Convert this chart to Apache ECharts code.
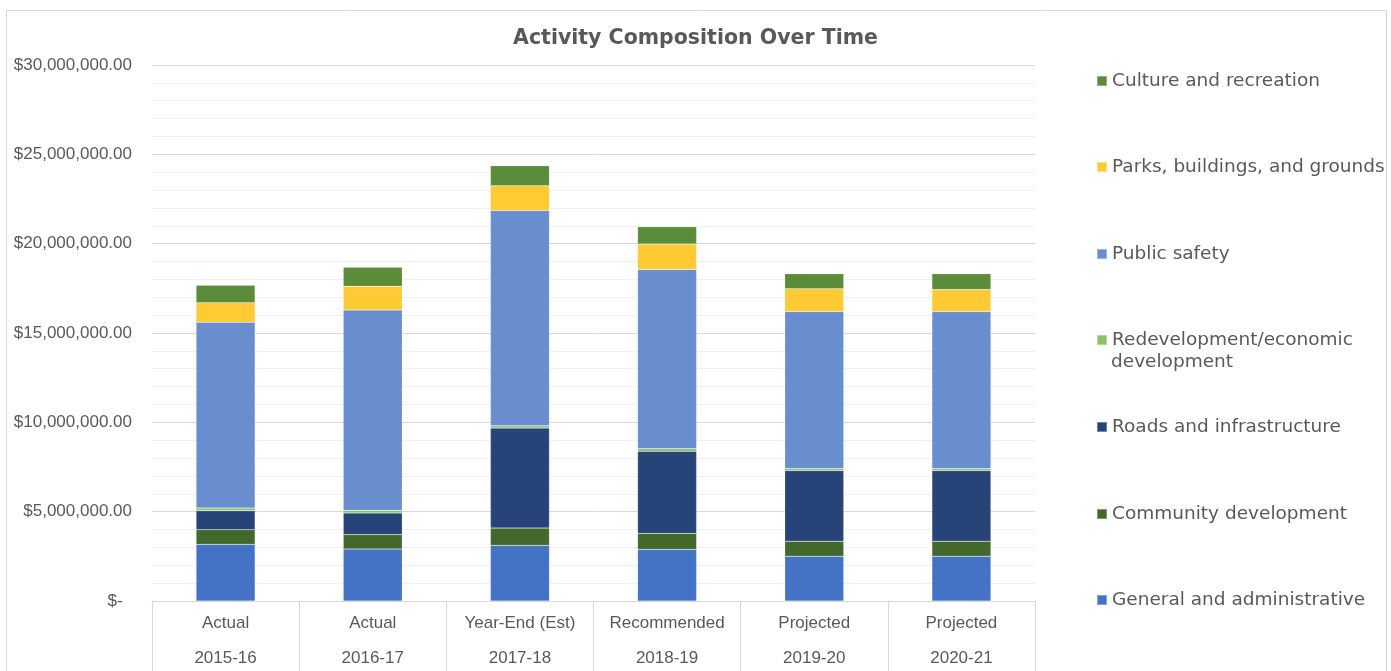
<!DOCTYPE html>
<html>
<head>
<meta charset="utf-8">
<title>Activity Composition Over Time</title>
<script src="https://cdn.jsdelivr.net/npm/echarts@6/dist/echarts.min.js"></script>
<style>
  html, body { margin: 0; padding: 0; background: #fff; overflow: hidden; }
  #chart { width: 1391px; height: 671px; }
</style>
</head>
<body>
<div id="chart"></div>
<script>
// Fiscal-year columns (two-row category labels)
const stages = ['Actual', 'Actual', 'Year-End (Est)', 'Recommended', 'Projected', 'Projected'];
const years = ['2015-16', '2016-17', '2017-18', '2018-19', '2019-20', '2020-21'];

// Spending by activity, in dollars
const generalAdmin = [3170000, 2910000, 3110000, 2890000, 2510000, 2510000];
const communityDev = [820000, 810000, 970000, 890000, 840000, 840000];
const roadsInfra = [1060000, 1210000, 5600000, 4600000, 3950000, 3950000];
const redevelopment = [150000, 150000, 130000, 150000, 110000, 110000];
const publicSafety = [10400000, 11210000, 12050000, 10030000, 8790000, 8790000];
const parksGrounds = [1100000, 1330000, 1380000, 1420000, 1270000, 1230000];
const cultureRec = [970000, 1060000, 1120000, 970000, 850000, 890000];

// Value axis ticks
const yTicks = [0, 5000000, 10000000, 15000000, 20000000, 25000000, 30000000];

const seriesDefs = [
  { name: 'General and administrative', data: generalAdmin, color: '#4472C4' },
  { name: 'Community development', data: communityDev, color: '#43682B' },
  { name: 'Roads and infrastructure', data: roadsInfra, color: '#264478' },
  { name: 'Redevelopment/economic development', data: redevelopment, color: '#8CC168' },
  { name: 'Public safety', data: publicSafety, color: '#698ED0' },
  { name: 'Parks, buildings, and grounds', data: parksGrounds, color: '#FFCA33' },
  { name: 'Culture and recreation', data: cultureRec, color: '#5B8C3A' }
];

const textGray = '#595959';
const narrow = '"Liberation Sans", Arial, sans-serif';
const wide = '"DejaVu Sans", Verdana, sans-serif';

// Legend rows, top to bottom (row centre y positions)
const legendRows = [
  { name: 'Culture and recreation', y: 81 },
  { name: 'Parks, buildings, and grounds', y: 167 },
  { name: 'Public safety', y: 254 },
  { name: 'Redevelopment/economic development', y: 340, first: 'Redevelopment/economic' },
  { name: 'Roads and infrastructure', y: 427 },
  { name: 'Community development', y: 514 },
  { name: 'General and administrative', y: 600 }
];

function money(v) {
  if (v === 0) return '$-  ';
  return '$' + v.toLocaleString('en-US', { minimumFractionDigits: 2, maximumFractionDigits: 2 });
}

const chart = echarts.init(document.getElementById('chart'), null, { renderer: 'canvas' });

chart.setOption({
  animation: false,
  backgroundColor: '#fff',
  title: {
    text: 'Activity Composition Over Time',
    left: 'center',
    top: 23,
    textStyle: { fontFamily: wide, fontSize: 20.5, fontWeight: 'bold', color: textGray }
  },
  legend: legendRows.map(r => ({
    data: [r.name],
    orient: 'vertical',
    left: 1096,
    top: r.y - 11,
    padding: 0,
    itemWidth: 10,
    itemHeight: 10,
    itemGap: 0,
    icon: 'rect',
    selectedMode: false,
    formatter: () => r.first || r.name,
    textStyle: { fontFamily: wide, fontSize: 18.5, color: textGray, lineHeight: 22 }
  })),
  graphic: [
    {
      type: 'rect',
      shape: { x: 6.5, y: 10.5, width: 1380, height: 700 },
      style: { fill: 'none', stroke: '#d9d9d9', lineWidth: 1 },
      silent: true
    },
    {
      type: 'text',
      left: 1111,
      top: 353,
      style: { text: 'development', font: '18.5px ' + wide, fill: textGray },
      silent: true
    }
  ],
  grid: { left: 152, top: 65, width: 883, height: 536, containLabel: false, outerBoundsMode: 'none' },
  xAxis: {
    type: 'category',
    data: stages.map((s, i) => s + '\n' + years[i]),
    axisLine: { show: true, lineStyle: { color: '#d9d9d9', width: 1 } },
    axisTick: { show: true, interval: 0, length: 72, lineStyle: { color: '#d9d9d9' } },
    axisLabel: {
      interval: 0,
      margin: 5,
      fontFamily: narrow,
      fontSize: 17,
      lineHeight: 35,
      color: textGray
    }
  },
  yAxis: {
    type: 'value',
    min: yTicks[0],
    max: yTicks[yTicks.length - 1],
    interval: yTicks[1] - yTicks[0],
    axisLine: { show: false },
    axisTick: { show: false },
    axisLabel: { margin: 20, fontFamily: narrow, fontSize: 17, color: textGray, formatter: money },
    splitLine: { show: true, lineStyle: { color: '#d9d9d9', width: 1 } },
    minorTick: { show: false, splitNumber: 5 },
    minorSplitLine: { show: true, lineStyle: { color: '#f0f0f0', width: 1 } }
  },
  series: seriesDefs.map(s => ({
    name: s.name,
    type: 'bar',
    stack: 'total',
    barWidth: 59,
    data: s.data,
    itemStyle: { color: s.color, borderColor: 'rgba(255,255,255,0.35)', borderWidth: 0.5 }
  }))
});
</script>
</body>
</html>
